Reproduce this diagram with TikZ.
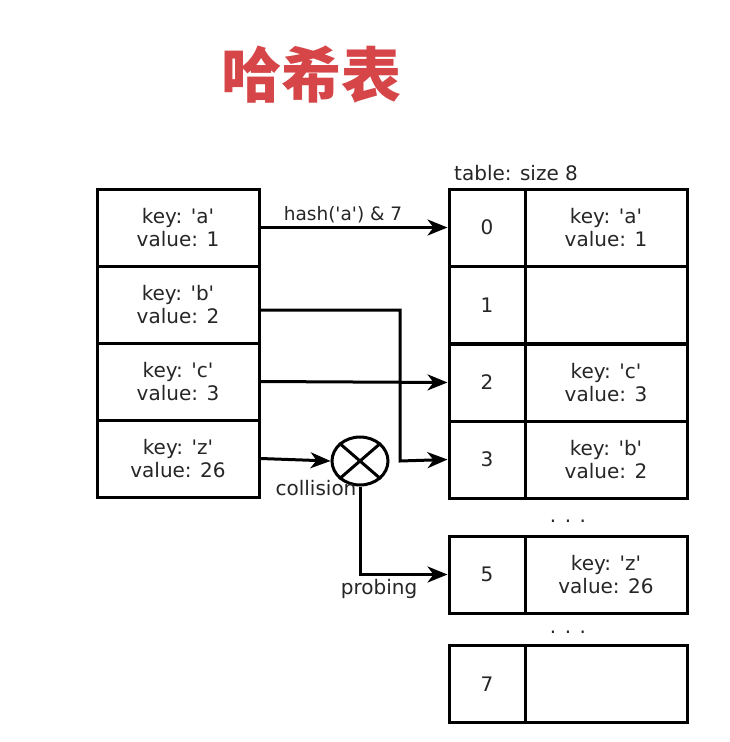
\documentclass[tikz,border=0pt]{standalone}
\usepackage{fontspec}
\setmainfont{DejaVu Sans}[Ligatures=TeXOff]
\newfontfamily\cjk{Noto Sans CJK SC}
\usetikzlibrary{arrows.meta,shapes.geometric}
\definecolor{titlered}{RGB}{214,70,72}
\definecolor{txt}{RGB}{38,38,38}
\begin{document}
\begin{tikzpicture}[x=1pt,y=-1pt,
  cell/.style={draw=black,line width=3pt,inner sep=0pt,minimum height=77pt,align=center,
    font=\fontsize{20}{23.5}\selectfont,text=txt},
  kv/.style={cell,minimum width=162pt},
  idx/.style={cell,minimum width=76pt},
  lbl/.style={font=\fontsize{20}{22}\selectfont,text=txt,inner sep=0pt},
  conn/.style={line width=3pt,-{Stealth[length=20pt,width=16pt,inset=6pt]}},
  plain/.style={line width=3pt}]
\useasboundingbox (0,0) rectangle (730,742);
\fill[white] (0,0) rectangle (730,742);
% title
\node[text=titlered,font=\cjk\bfseries\fontsize{60}{62}\selectfont,inner sep=0pt] (title) at (311,75) {哈希表};
% left boxes
\node[kv] (ka) at (178,227.5) {key: 'a'\\value: 1};
\node[kv] (kb) at (178,304.5) {key: 'b'\\value: 2};
\node[kv] (kc) at (178,381.5) {key: 'c'\\value: 3};
\node[kv] (kz) at (178,458.5) {key: 'z'\\value: 26};
% table
\node[lbl,anchor=west] (tsize) at (454,173) {table: size 8};
\node[idx] (i0) at (487,227.5) {0};
\node[kv] (v0) at (606,227.5) {key: 'a'\\value: 1};
\node[idx] (i1) at (487,305) {1};
\node[kv] (v1) at (606,305) {};
\node[idx] (i2) at (487,382.5) {2};
\node[kv] (v2) at (606,382.5) {key: 'c'\\value: 3};
\node[idx] (i3) at (487,459.5) {3};
\node[kv] (v3) at (606,459.5) {key: 'b'\\value: 2};
\node[lbl] (d1) at (568,521) {. . .};
\node[idx] (i5) at (487,574.5) {5};
\node[kv] (v5) at (606,574.5) {key: 'z'\\value: 26};
\node[lbl] (d2) at (568,632) {. . .};
\node[idx] (i7) at (487,684) {7};
\node[kv] (v7) at (606,684) {};
% collision circle
\node[draw=black,line width=3pt,ellipse,minimum width=56pt,minimum height=48pt,inner sep=0pt] (col) at (360,461) {};
\draw[plain] (col.north east) -- (col.south west);
\draw[plain] (col.north west) -- (col.south east);
\node[lbl] (collbl) at (316,488) {collision};
% connectors
\draw[conn] (ka.east) -- (i0.west);
\node[lbl,font=\fontsize{18.5}{22}\selectfont] (hl) at (343,215) {hash('a') \& 7};
\draw[conn] (kb.east |- 0,310) -| (400,461) -- (i3.west);
\draw[conn] (kc.east) -- (i2.west);
\draw[conn] (kz.east) -- (col.west);
\draw[conn] (col.south) |- (i5.west);
\node[lbl] (probe) at (379,589) {probing};
\end{tikzpicture}
\end{document}
